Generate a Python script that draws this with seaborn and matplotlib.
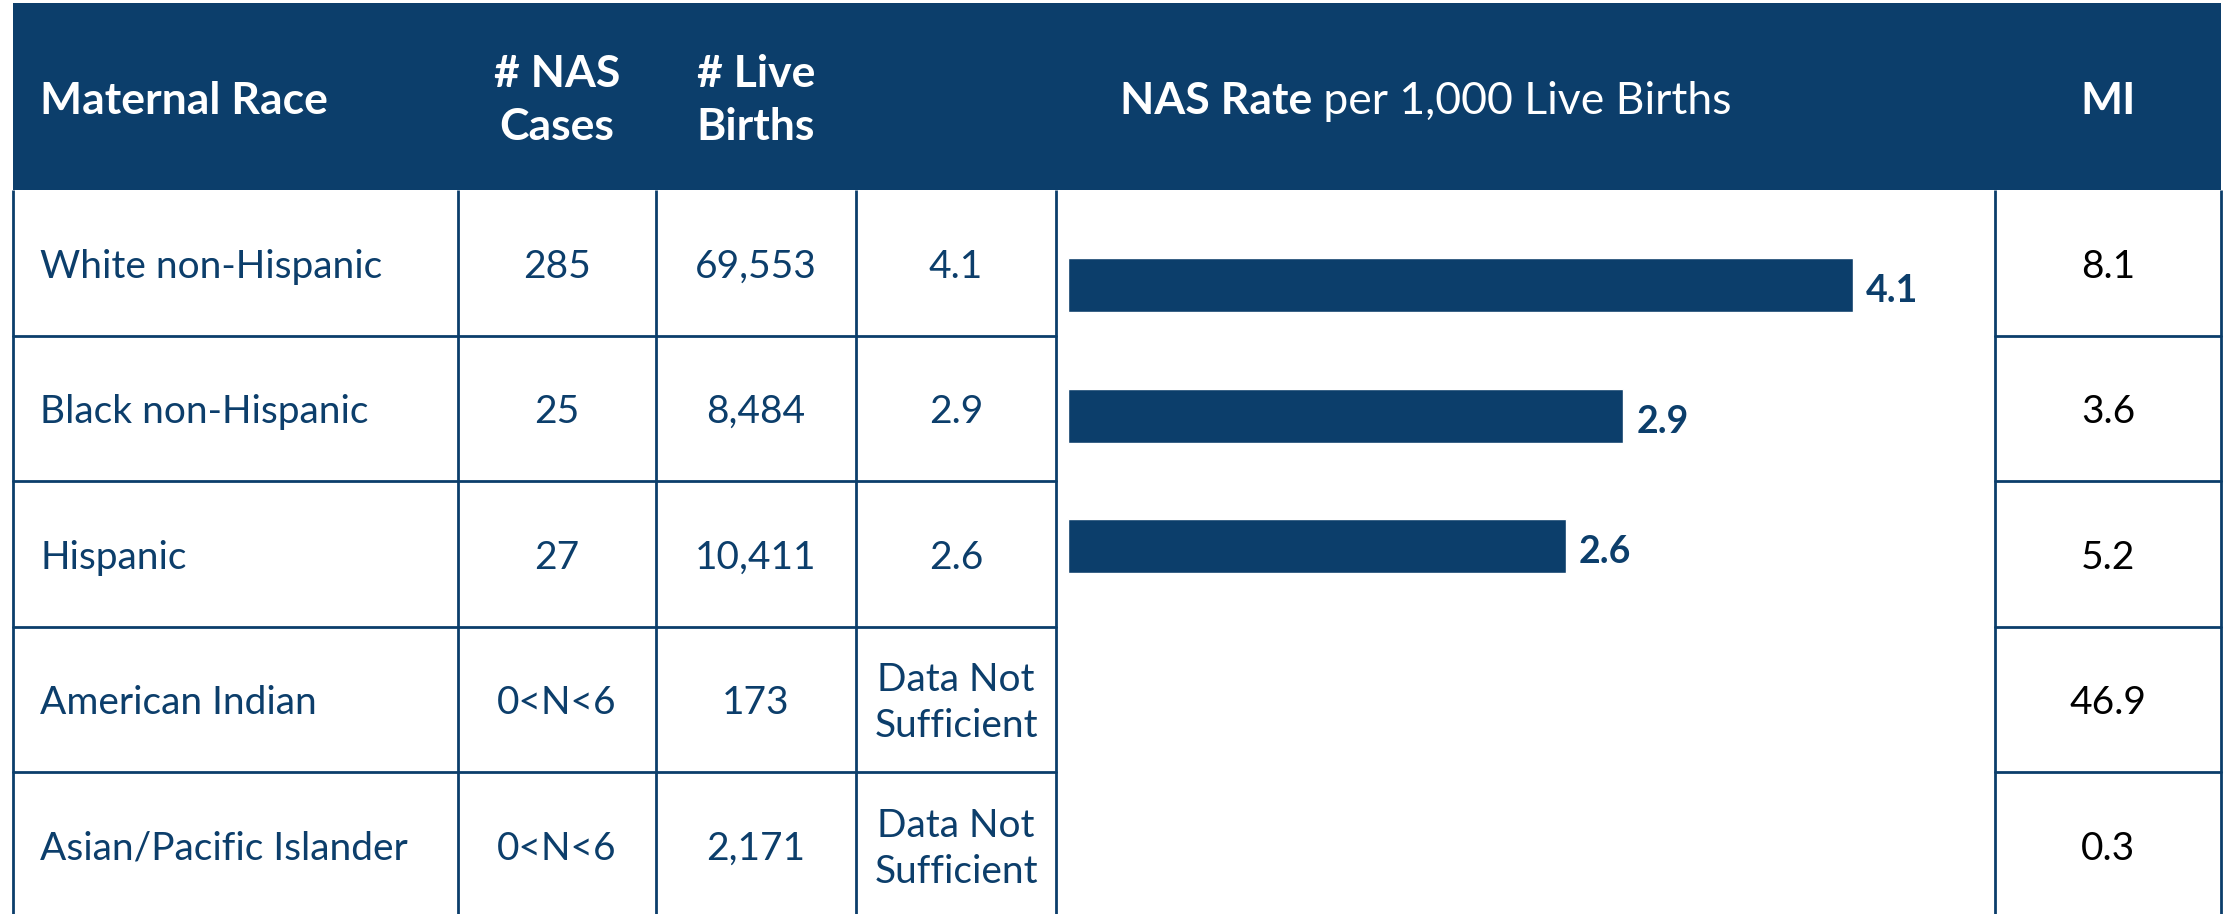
import numpy as np
import pandas as pd
import matplotlib
matplotlib.use("Agg")
import matplotlib.pyplot as plt
import seaborn as sns

races = ["White non-Hispanic", "Black non-Hispanic", "Hispanic",
         "American Indian", "Asian/Pacific Islander"]
nas_cases = ["285", "25", "27", "0<N<6", "0<N<6"]
live_births = ["69,553", "8,484", "10,411", "173", "2,171"]
rate_text = ["4.1", "2.9", "2.6", "Data Not\nSufficient", "Data Not\nSufficient"]
rates = [4.1, 2.9, 2.6, np.nan, np.nan]
mi_values = ["8.1", "3.6", "5.2", "46.9", "0.3"]

navy = "#0c3e6b"
W, H = 2223, 915

sns.set_theme(style="white")
plt.rcParams["font.family"] = ["Lato", "DejaVu Sans"]

fig = plt.figure(figsize=(22.23, 9.149), dpi=100)
bg = fig.add_axes([0, 0, 1, 1])
bg.set_xlim(0, W)
bg.set_ylim(H, 0)
bg.axis("off")

# table layout in pixels
x_edges = [13, 458, 656, 856, 1056, 1995, 2221]
head_top, head_bot = 4, 191
row_h = 145.5
lw = 2.0

bg.add_patch(plt.Rectangle((x_edges[0], head_top), x_edges[-1] - x_edges[0],
                           head_bot - head_top, color=navy, lw=0))

# header text
hs = 32
hy = (head_top + head_bot) / 2 + 4
bg.text(40, hy, "Maternal Race", color="white", fontsize=hs, fontweight="bold",
        ha="left", va="center")
bg.text((x_edges[1] + x_edges[2]) / 2, hy - 1, "# NAS\nCases", color="white",
        fontsize=hs, fontweight="bold", ha="center", va="center", linespacing=1.42)
bg.text((x_edges[2] + x_edges[3]) / 2, hy - 1, "# Live\nBirths", color="white",
        fontsize=hs, fontweight="bold", ha="center", va="center", linespacing=1.42)
bg.text((x_edges[5] + x_edges[6]) / 2, hy, "MI", color="white",
        fontsize=hs, fontweight="bold", ha="center", va="center")
t1 = bg.text(0, hy, "NAS Rate", color="white", fontsize=hs, fontweight="bold",
             ha="left", va="center")
t2 = bg.text(0, hy, " per 1,000 Live Births", color="white", fontsize=hs,
             ha="left", va="center")
fig.canvas.draw()
r = fig.canvas.get_renderer()
w1 = t1.get_window_extent(r).width
w2 = t2.get_window_extent(r).width
cx = (x_edges[3] + x_edges[5]) / 2
t1.set_x(cx - (w1 + w2) / 2)
t2.set_x(cx - (w1 + w2) / 2 + w1)

# grid lines
for x in x_edges:
    bg.plot([x, x], [head_bot, H], color=navy, lw=lw, solid_capstyle="butt")
for i in range(1, len(races)):
    y = head_bot + i * row_h
    bg.plot([x_edges[0], x_edges[4]], [y, y], color=navy, lw=lw)
    bg.plot([x_edges[5], x_edges[6]], [y, y], color=navy, lw=lw)

# body text
bs = 28
for i in range(len(races)):
    y = head_bot + (i + 0.5) * row_h + 3
    bg.text(40, y, races[i], color=navy, fontsize=bs, ha="left", va="center")
    bg.text((x_edges[1] + x_edges[2]) / 2, y, nas_cases[i], color=navy,
            fontsize=bs, ha="center", va="center")
    bg.text((x_edges[2] + x_edges[3]) / 2, y, live_births[i], color=navy,
            fontsize=bs, ha="center", va="center")
    bg.text((x_edges[3] + x_edges[4]) / 2, y, rate_text[i], color=navy,
            fontsize=bs, ha="center", va="center", linespacing=1.35)
    bg.text((x_edges[5] + x_edges[6]) / 2, y, mi_values[i], color="black",
            fontsize=bs, ha="center", va="center")

# bar panel
bar_ax = fig.add_axes([x_edges[4] / W, 0, (x_edges[5] - x_edges[4]) / W,
                       (H - head_bot) / H])
df = pd.DataFrame({"race": races, "rate": rates})
sns.barplot(data=df, x="rate", y="race", order=races, color=navy,
            saturation=1, width=0.414, ax=bar_ax)
bar_ax.set_xlim(-0.063, 4.843)
bar_ax.set_ylim(4.82, -0.73)
bar_ax.axis("off")
for i, v in enumerate(rates):
    if not np.isnan(v):
        bar_ax.text(v + 0.07, i + 0.04, f"{v:.1f}", color=navy, fontsize=27,
                    fontweight="bold", ha="left", va="center")

fig.savefig("out.png", dpi=100)
